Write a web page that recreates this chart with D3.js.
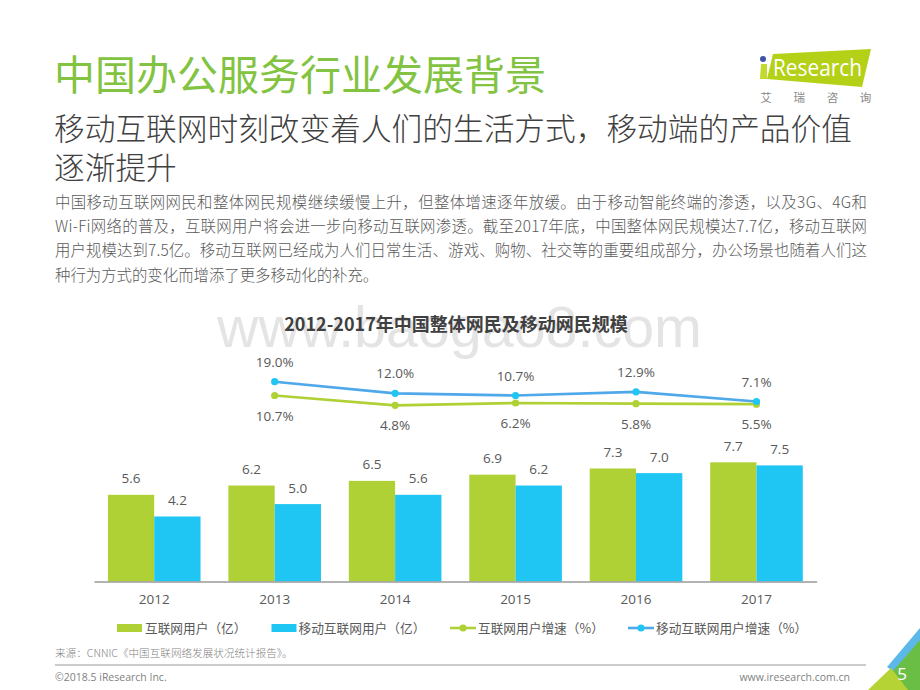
<!DOCTYPE html>
<html><head><meta charset="utf-8">
<script src="https://cdn.jsdelivr.net/npm/d3@7"></script>
<style>html,body{margin:0;padding:0;background:#fff}svg{display:block}</style></head>
<body><svg id="c" width="920" height="690"></svg>
<script>
const years=["2012","2013","2014","2015","2016","2017"];
const internetUsers=[5.6,6.2,6.5,6.9,7.3,7.7];
const mobileUsers=[4.2,5.0,5.6,6.2,7.0,7.5];
const growthYears=["2013","2014","2015","2016","2017"];
const internetGrowth=[10.7,4.8,6.2,5.8,5.5];
const mobileGrowth=[19.0,12.0,10.7,12.9,7.1];
const legendBars=["互联网用户（亿）","移动互联网用户（亿）"];
const legendLines=["互联网用户增速（%）","移动互联网用户增速（%）"];
const bodyLines=["中国移动互联网网民和整体网民规模继续缓慢上升，但整体增速逐年放缓。由于移动智能终端的渗透，以及3G、4G和","Wi-Fi网络的普及，互联网用户将会进一步向移动互联网渗透。截至2017年底，中国整体网民规模达7.7亿，移动互联网","用户规模达到7.5亿。移动互联网已经成为人们日常生活、游戏、购物、社交等的重要组成部分，办公场景也随着人们这","种行为方式的变化而增添了更多移动化的补充。"];
const GREEN="#b0d136",BLUE="#1fc5f3",LBLUE="#4fa8ea",TXT="#595959";
const FONT="'Noto Sans CJK SC','Noto Sans',sans-serif", NUM="'Open Sans','Noto Sans CJK SC',sans-serif";
const svg=d3.select("#c");
const T=(x,y,s,size,fill,anchor,extra)=>{const t=svg.append("text").attr("x",x).attr("y",y).attr("font-size",size).attr("fill",fill).attr("text-anchor",anchor||"start").attr("font-family",FONT).text(s);if(extra)for(const k in extra)t.attr(k,extra[k]);return t;};

// header
T(54,90,"中国办公服务行业发展背景",41,"#82c341","start");
T(54,140,"移动互联网时刻改变着人们的生活方式，移动端的产品价值",30.7,"#404040","start",{"font-weight":300});
T(54,179,"逐渐提升",30.7,"#404040","start",{"font-weight":300});
svg.append("g").selectAll("text").data(bodyLines).join("text")
  .attr("x",55).attr("y",(d,i)=>207.5+i*24.4).attr("font-size",15.4).attr("fill",TXT).attr("font-family",FONT).attr("font-weight",300)
  .each(function(d,i){ if(i<3) d3.select(this).attr("textLength",812).attr("lengthAdjust","spacing"); })
  .text(d=>d);

// logo
svg.append("polygon").attr("points","773,54 871,49 862,87 767,79").attr("fill","#b4d017");
svg.append("circle").attr("cx",763).attr("cy",59).attr("r",3).attr("fill","#3d55a8");
svg.append("polygon").attr("points","761,64 767,64 767,79 760,79").attr("fill","#c3d92c");
T(773,76,"Research",24,"#fff","start",{"font-family":NUM,"textLength":89,"lengthAdjust":"spacingAndGlyphs"});
["艾","瑞","咨","询"].forEach((c,i)=>T(766+i*33.2,102,c,11.5,"#888","middle"));

// watermark
T(217,347,"www.baogao8.com",57.4,"#e4e4e4","start",{"font-family":"'Liberation Sans',sans-serif"});
T(456,331,"2012-2017年中国整体网民及移动网民规模",18,"#404040","middle",{"font-weight":700});

// scales
const x0=d3.scaleBand().domain(years).range([94,816.7]);
const barW=46.3;
const cx=d=>x0(d)+x0.bandwidth()/2;
const yBar=d3.scaleLinear().domain([0,7.7]).range([581.5,462.3]);
const yLine=d3.scaleLinear().domain([7.1,19]).range([401.5,381.7]);

// bars
const barG=svg.append("g");
[[internetUsers,GREEN,-1],[mobileUsers,BLUE,0]].forEach(([vals,col,off])=>{
  barG.selectAll(null).data(years).join("rect")
    .attr("x",d=>cx(d)+off*barW).attr("width",barW)
    .attr("y",(d,i)=>yBar(vals[i])).attr("height",(d,i)=>yBar(0)-yBar(vals[i])).attr("fill",col);
  barG.selectAll(null).data(years).join("text")
    .attr("x",d=>cx(d)+(off+.5)*barW).attr("y",(d,i)=>yBar(vals[i])-11.5)
    .attr("text-anchor","middle").attr("font-size",13.5).attr("fill",TXT).attr("font-family",NUM)
    .text((d,i)=>vals[i].toFixed(1));
});

// x axis
const axis=svg.append("g").attr("transform","translate(0,581.5)").call(d3.axisBottom(x0).tickSize(0).tickPadding(13));
axis.select(".domain").attr("stroke","#9a9a9a").attr("stroke-width",1.5);
axis.selectAll("text").attr("font-size",13.5).attr("fill",TXT).attr("font-family",NUM);

// lines
const line=d3.line().x((d,i)=>cx(growthYears[i])).y(d=>yLine(d));
[[internetGrowth,GREEN,GREEN,20+5],[mobileGrowth,LBLUE,BLUE,-20+5]].forEach(([vals,lc,pc,dy])=>{
  svg.append("path").attr("d",line(vals)).attr("fill","none").attr("stroke",lc).attr("stroke-width",2.6);
  svg.append("g").selectAll("circle").data(vals).join("circle")
    .attr("cx",(d,i)=>cx(growthYears[i])).attr("cy",d=>yLine(d)).attr("r",3.6).attr("fill",pc);
  svg.append("g").selectAll("text").data(vals).join("text")
    .attr("x",(d,i)=>cx(growthYears[i])).attr("y",d=>yLine(d)+dy)
    .attr("text-anchor","middle").attr("font-size",13.5).attr("fill",TXT).attr("font-family",NUM)
    .text(d=>d.toFixed(1)+"%");
});

// legend
[[117,145,GREEN,legendBars[0]],[271.5,298.5,BLUE,legendBars[1]]].forEach(([a,b,c,s])=>{
  svg.append("rect").attr("x",a).attr("y",624).attr("width",25).attr("height",8).attr("fill",c);
  T(b,633,s,12.7,TXT);
});
[[450,478,GREEN,GREEN,legendLines[0]],[628,656,LBLUE,BLUE,legendLines[1]]].forEach(([a,b,c,p,s])=>{
  svg.append("line").attr("x1",a).attr("x2",a+26).attr("y1",628).attr("y2",628).attr("stroke",c).attr("stroke-width",2.6);
  svg.append("circle").attr("cx",a+13).attr("cy",628).attr("r",3.6).attr("fill",p);
  T(b,633,s,12.7,TXT);
});

// footer
T(55,657,"来源：CNNIC《中国互联网络发展状况统计报告》。",10.6,"#7f7f7f","start",{"font-weight":300});
svg.append("line").attr("x1",55).attr("x2",866).attr("y1",665).attr("y2",665).attr("stroke","#9a9a9a").attr("stroke-width",1.2);
T(55,681,"©2018.5 iResearch Inc.",10.5,"#7f7f7f","start",{"font-family":NUM});
T(850,681,"www.iresearch.com.cn",10.5,"#7f7f7f","end",{"font-family":NUM});

// corner
svg.append("polygon").attr("points","893,670 920,636 920,690 887,690").attr("fill","#6abd45");
svg.append("polygon").attr("points","887,667 920,628 920,640 893,671").attr("fill","#5bb8e8");
svg.append("polygon").attr("points","868,690 891,668 908,690").attr("fill","#b5d334");
T(902,680,"5",17,"#fff","middle",{"font-family":NUM});
</script></body></html>
